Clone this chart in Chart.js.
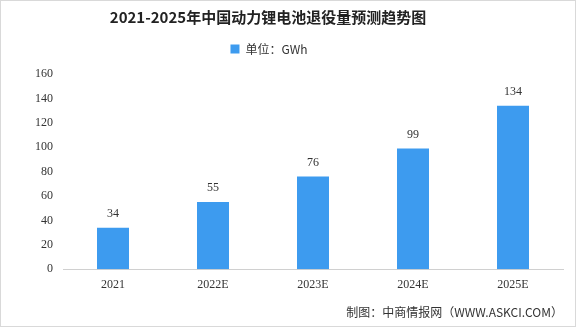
<!DOCTYPE html>
<html><head><meta charset="utf-8">
<script src="https://cdn.jsdelivr.net/npm/chart.js@4"></script>
<style>
html,body{margin:0;padding:0;background:#fff;}
#wrap{position:relative;width:574px;height:325px;border:1px solid #d9d9d9;}
canvas{display:block;}
</style></head>
<body>
<div id="wrap"><canvas id="c" width="574" height="325"></canvas></div>
<script>
const categories = ["2021","2022E","2023E","2024E","2025E"];
const values = [34,55,76,99,134];
const seriesName = "单位：GWh";
const titleText = "2021-2025年中国动力锂电池退役量预测趋势图";
const sourceText = "制图：中商情报网（WWW.ASKCI.COM）";

const labelPlugin = {
  id:'labels',
  afterDatasetsDraw(chart){
    const ctx = chart.ctx;
    const meta = chart.getDatasetMeta(0);
    ctx.save();
    ctx.font = '12px "Liberation Serif", serif';
    ctx.fillStyle = '#333';
    ctx.textAlign = 'center';
    ctx.textBaseline = 'bottom';
    meta.data.forEach((bar,i)=>{
      ctx.fillText(String(values[i]), bar.x, bar.y - 8);
    });
    ctx.restore();
  }
};

const spacerPlugin = {
  id:'spacer',
  beforeInit(chart){
    const box = {
      position:'top', weight:-100, fullSize:true, options:{},
      top:0,left:0,right:0,bottom:0,width:0,height:0,
      isHorizontal(){return true;},
      update(maxWidth){ this.width = maxWidth; this.height = 9; },
      draw(){}
    };
    Chart.layouts.addBox(chart, box);
  },
  afterLayout(chart){
    if (chart.titleBlock){ chart.titleBlock.left -= 26; chart.titleBlock.right -= 26; }
    if (chart.legend){ chart.legend.left -= 25; chart.legend.right -= 25; }
  }
};

new Chart(document.getElementById('c'),{
  type:'bar',
  data:{labels:categories,datasets:[{label:seriesName,data:values,backgroundColor:'#3d9bef',barPercentage:0.32,categoryPercentage:1}]},
  options:{
    responsive:false,animation:false,
    layout:{padding:{left:24,right:12,top:1,bottom:2}},
    plugins:{
      title:{display:true,text:titleText,color:'#222',font:{family:'"Noto Sans CJK SC"',size:15,weight:'bold'},padding:{top:6,bottom:6}},
      legend:{display:true,labels:{boxWidth:9,boxHeight:9,color:'#333',font:{family:'"Noto Sans CJK SC"',size:12},padding:11}},
      subtitle:{display:true,position:'bottom',align:'end',text:sourceText,color:'#333',font:{family:'"Noto Sans CJK SC"',size:12},padding:{top:6,bottom:4}},
      tooltip:{enabled:false}
    },
    scales:{
      x:{grid:{display:false,drawTicks:false},border:{display:true,color:'#d0d0d0'},ticks:{color:'#333',font:{family:'"Liberation Serif"',size:12},padding:8}},
      y:{min:0,max:160,ticks:{stepSize:20,color:'#333',font:{family:'"Liberation Serif"',size:12},padding:10},grid:{display:false,drawTicks:false},border:{display:false}}
    }
  },
  plugins:[labelPlugin, spacerPlugin]
});
</script>
</body></html>
